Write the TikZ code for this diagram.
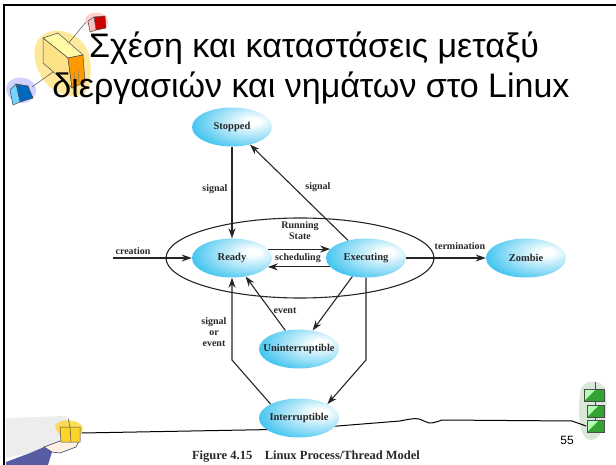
\documentclass[tikz,border=0pt]{standalone}
\usepackage{fontspec}
\setmainfont{Liberation Serif}
\newfontfamily\titlefont{Liberation Sans}
\usetikzlibrary{arrows.meta,shapes.geometric}

\definecolor{statecyan}{RGB}{22,182,236}
\definecolor{labelgray}{RGB}{40,40,40}
\definecolor{sleeveblue}{RGB}{88,92,165}
\pgfdeclareradialshading{stateshade}{\pgfpoint{14bp}{8bp}}{%
  color(0bp)=(white); color(4bp)=(white); color(22bp)=(statecyan!45!white);
  color(42bp)=(statecyan); color(100bp)=(statecyan)}

% state names are centred without widening the ellipse
\newcommand{\stname}[1]{\makebox[0pt][c]{#1}}

\tikzset{
  state/.style={ellipse, shading=stateshade, draw=none, minimum width=80pt,
    minimum height=39pt, inner sep=0pt, font=\bfseries\fontsize{10.5}{12}\selectfont,
    text=labelgray},
  lbl/.style={font=\bfseries\fontsize{10}{11}\selectfont, text=labelgray,
    align=center, inner sep=1pt},
  arr/.style={draw=black!85, line width=1.1pt, -{Stealth[length=10pt,width=7pt]}},
  frame/.style={line width=2pt, black},
  ink/.style={draw=black!70, line width=0.5pt},
}

\begin{document}
\begin{tikzpicture}[x=1pt,y=-1pt]
\useasboundingbox (0,0) rectangle (616,465);

% slide frame
\draw[frame] (4,465) -- (4,5) -- (616,5);

% clip art, top left: three linked cubes
\fill[yellow!60!orange!55, opacity=0.7] (38,40) .. controls (48,26) and (70,28) .. (84,44)
  .. controls (94,58) and (92,86) .. (84,94) .. controls (70,100) and (48,92) .. (40,74)
  .. controls (34,62) and (32,50) .. (38,40);
\fill[red!18] (85,20) .. controls (86,10) and (106,10) .. (108,20)
  .. controls (110,32) and (90,36) .. (85,20);
\fill[blue!18] (6,88) .. controls (8,74) and (32,74) .. (36,88)
  .. controls (38,106) and (8,110) .. (6,88);
\draw[ink] (86,22) -- (67,45);
\draw[ink] (32,87) -- (60,67);
\filldraw[fill=yellow!35, ink] (43,38) -- (58,33) -- (83,55) -- (68,58) -- cycle;
\filldraw[fill=yellow!55!orange!45, ink] (43,38) -- (68,58) -- (72,88) -- (43,63) -- cycle;
\filldraw[fill=orange!80!yellow, ink] (68,58) -- (83,55) -- (85,82) -- (72,88) -- cycle;
\draw[black!55, line width=0.4pt] (74,72) -- (75,84) (78,70) -- (79,82);
\filldraw[fill=red!80!black, ink] (94,17) -- (105,16) -- (106,28) -- (96,30) -- cycle;
\filldraw[fill=red!25!white, ink] (88,21) -- (94,17) -- (96,30) -- (90,32) -- cycle;
\filldraw[fill=blue!45!cyan!75!black, ink] (16,84) -- (28,86) -- (33,98) -- (20,102) -- cycle;
\filldraw[fill=blue!30!cyan!55!white, ink] (10,90) -- (16,84) -- (20,102) -- (13,105) -- cycle;

% clip art, bottom left: hand holding a box
\fill[black!7] (6,418) -- (66,416) -- (70,440) -- (60,450) -- (20,455) -- (6,458) -- cycle;
\fill[yellow!65!orange!75, opacity=0.85] (55,426) .. controls (58,418) and (80,418) .. (83,428)
  .. controls (84,442) and (60,446) .. (55,426);
\fill[sleeveblue] (6,462) -- (30,453) -- (44,447) -- (52,452) -- (48,465) -- (6,465) -- cycle;
\filldraw[fill=orange!12, draw=sleeveblue!70!black, line width=0.6pt]
  (44,447) -- (60,441) -- (80,439) -- (76,447) -- (60,453) -- (52,452) -- cycle;
\filldraw[fill=yellow!65!orange!85, ink] (60,427) -- (80,427) -- (80,442) -- (61,442) -- cycle;
\draw[ink] (68,418) -- (70,427) (70,427) -- (71,442);

% clip art, bottom right: stacked green blocks
\fill[green!40!black!15] (580,392) .. controls (582,378) and (604,378) .. (606,392)
  .. controls (608,410) and (606,440) .. (590,440) .. controls (578,438) and (578,410) .. (580,392);
\draw[ink] (595,382) -- (595,432);
\foreach \yy/\xx in {389/584,405/587,420/587} {
  \filldraw[fill=green!55!black!80, ink] (\xx,\yy) rectangle (604,\yy+12);
  \fill[white!70!green] (\xx+1,\yy+1) -- (\xx+11,\yy+1) -- (\xx+1,\yy+11) -- cycle;
}

% line running from the hand to the green blocks
\draw[black, line width=1pt] (82,433) -- (300,429) -- (400,421)
  .. controls (410,419) and (418,417) .. (424,421)
  .. controls (430,425) and (436,422) .. (442,420) -- (572,421) -- (586,426);

% title
\node[font=\titlefont\fontsize{34}{40}\selectfont, anchor=base]
  (title1) at (314,58) {Σχέση και καταστάσεις μεταξύ};
\node[font=\titlefont\fontsize{34}{40}\selectfont, anchor=base]
  (title2) at (311,98) {διεργασιών και νημάτων στο Linux};

% running state region
\draw[line width=1.1pt, black!85] (300,258) ellipse [x radius=134, y radius=40];

% states
\node[state] (stopped) at (232,127) {\stname{Stopped}};
\node[state] (ready)   at (232,258) {\stname{Ready}};
\node[state] (exec)    at (366,258) {\stname{Executing}};
\node[state] (zombie)  at (526,258) {\stname{Zombie}};
\node[state] (unint)   at (299,349) {\stname{Uninterruptible}};
\node[state] (inter)   at (299,418) {\stname{Interruptible}};

% connector helpers
\coordinate (cstart) at (113,258);
\coordinate (bendR) at (366,360);
\coordinate (bendL) at (232,360);

% transitions
\draw[arr] (stopped) -- (ready);
\draw[arr] (exec) -- (stopped);
\draw[arr] (cstart) -- (ready);
\draw[arr] (ready.14) -- (exec.166);
\draw[arr] (exec.194) -- (ready.346);
\draw[arr] (exec) -- (zombie);
\draw[arr] (unint) -- (ready);
\draw[arr] (exec) -- (unint);
\draw[arr] (exec.south) -- (bendR) -- (inter.north east);
\draw[arr] (inter.north west) -- (bendL) -- (ready.south);

% transition labels
\node[lbl] (l-sig1)  at (215,189) {signal};
\node[lbl] (l-sig2)  at (318,187) {signal};
\node[lbl] (l-creat) at (133,251) {creation};
\node[lbl] (l-run)   at (300,231) {Running\\State};
\node[lbl] (l-sched) at (298,258) {scheduling};
\node[lbl] (l-term)  at (460,246) {termination};
\node[lbl] (l-event) at (285,311) {event};
\node[lbl] (l-soe)   at (214,332) {signal\\or\\event};

% page number and caption
\node[font=\titlefont\fontsize{12}{13}\selectfont] (pageno) at (567,440) {55};
\node[font=\bfseries\fontsize{12.5}{14}\selectfont, text=labelgray, inner sep=0pt]
  (caption) at (306,457) {Figure 4.15\quad Linux Process/Thread Model};
\end{tikzpicture}
\end{document}
